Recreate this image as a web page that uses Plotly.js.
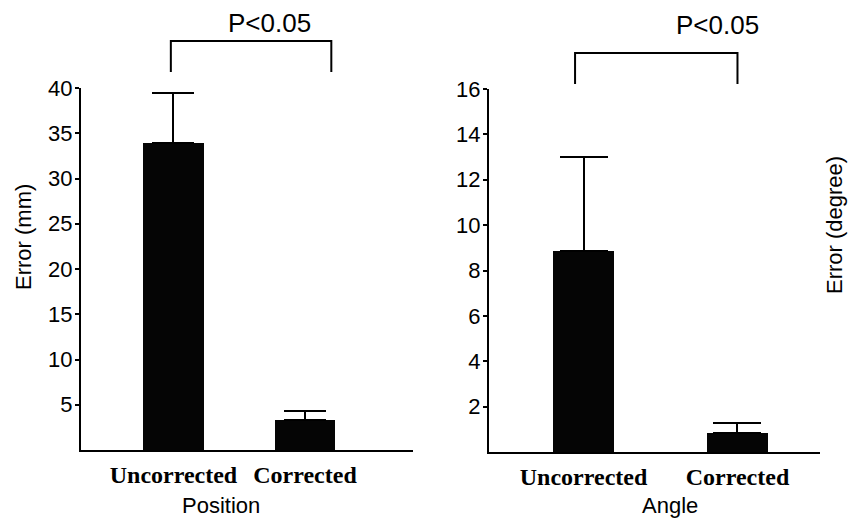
<!DOCTYPE html>
<html>
<head>
<meta charset="utf-8">
<script src="https://cdn.plot.ly/plotly-3.0.1.min.js"></script>
<style>html,body{margin:0;padding:0;background:#fff;}#chart{width:860px;height:518px;}</style>
</head>
<body>
<div id="chart"></div>
<script>
// Data
const categories = ["Uncorrected", "Corrected"];
const positionError = [33.9, 3.3];      // mm
const positionErrorUpper = [39.4, 4.3]; // mean + SD
const angleError = [8.85, 0.84];        // degree
const angleErrorUpper = [13.0, 1.28];
const positionTicks = [5, 10, 15, 20, 25, 30, 35, 40];
const angleTicks = [2, 4, 6, 8, 10, 12, 14, 16];
const pText = "P<0.05";

const tickFont = {family: "Liberation Sans, Arial, sans-serif", size: 22, color: "#000"};
const catFont = {family: "Liberation Serif, Times New Roman, serif", size: 24, color: "#000", weight: "bold"};
const titleFont = {family: "Liberation Sans, Arial, sans-serif", size: 22, color: "#000"};
const pFont = {family: "Liberation Sans, Arial, sans-serif", size: 26, color: "#000"};

function diff(up, v) { return up.map((u, i) => u - v[i]); }

const traces = [
  {
    type: "bar", x: categories, y: positionError, xaxis: "x", yaxis: "y",
    width: 0.46, marker: {color: "#050505", line: {width: 0}},
    error_y: {type: "data", symmetric: false, array: diff(positionErrorUpper, positionError),
              arrayminus: [0, 0], color: "#000", thickness: 2, width: 21},
    hoverinfo: "none", showlegend: false
  },
  {
    type: "bar", x: categories, y: angleError, xaxis: "x2", yaxis: "y2",
    width: 0.396, marker: {color: "#050505", line: {width: 0}},
    error_y: {type: "data", symmetric: false, array: diff(angleErrorUpper, angleError),
              arrayminus: [0, 0], color: "#000", thickness: 2, width: 24},
    hoverinfo: "none", showlegend: false
  }
];

const xCommon = {
  type: "category", showline: true, linecolor: "#000", linewidth: 2,
  ticks: "", showgrid: false, zeroline: false, tickfont: catFont, ticklabelstandoff: 2
};
const yCommon = {
  showline: true, linecolor: "#000", linewidth: 2, ticks: "outside", ticklen: 4,
  tickwidth: 2, tickcolor: "#000", showgrid: false, zeroline: false, tickfont: tickFont,
  ticklabelstandoff: -2
};

function ann(text, xref, yref, x, y, font, angle) {
  return {text: text, xref: xref, yref: yref, x: x, y: y, xanchor: "center", yanchor: "middle",
          showarrow: false, font: font, textangle: angle || 0};
}

const layout = {
  width: 860, height: 518,
  margin: {l: 0, r: 0, t: 0, b: 0},
  paper_bgcolor: "#fff", plot_bgcolor: "#fff",
  bargap: 0,
  xaxis: Object.assign({}, xCommon, {domain: [81/860, 413/860], range: [-0.703, 1.821], anchor: "y"}),
  yaxis: Object.assign({}, yCommon, {domain: [68/518, 430/518], range: [0, 40], tickvals: positionTicks, anchor: "x"}),
  xaxis2: Object.assign({}, xCommon, {domain: [489/860, 820/860], range: [-0.614, 1.536], anchor: "y2"}),
  yaxis2: Object.assign({}, yCommon, {domain: [66/518, 429/518], range: [0, 16], tickvals: angleTicks, anchor: "x2"}),
  shapes: [
    {type: "path", xref: "x", yref: "y domain", path: "M -0.02,1.044 L -0.02,1.13 L 1.2,1.13 L 1.2,1.044",
     line: {color: "#000", width: 2}},
    {type: "path", xref: "x2", yref: "y2 domain", path: "M -0.055,1.014 L -0.055,1.099 L 1.0,1.099 L 1.0,1.014",
     line: {color: "#000", width: 2}}
  ],
  annotations: [
    ann(pText, "x", "y domain", 0.73, 1.18, pFont),
    ann(pText, "x2", "y2 domain", 0.87, 1.176, pFont),
    ann("Error (mm)", "paper", "paper", 23/860, 1 - 237/518, titleFont, -90),
    ann("Error (degree)", "paper", "paper", 834/860, 1 - 225/518, titleFont, -90),
    ann("Position", "paper", "paper", 221/860, 1 - 505/518, titleFont),
    ann("Angle", "paper", "paper", 670/860, 1 - 505/518, titleFont)
  ]
};

Plotly.newPlot("chart", traces, layout, {staticPlot: true, displayModeBar: false});
</script>
</body>
</html>
